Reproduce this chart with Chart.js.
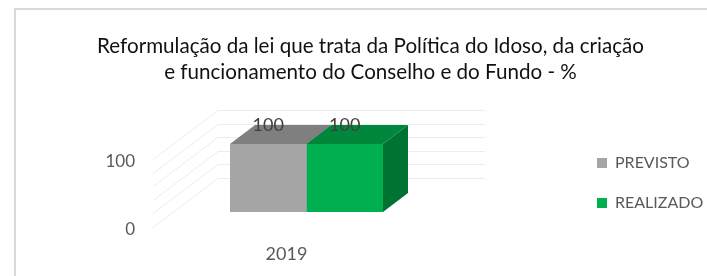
<!DOCTYPE html>
<html>
<head>
<meta charset="utf-8">
<script src="https://cdn.jsdelivr.net/npm/chart.js@4/dist/chart.umd.min.js"></script>
<style>
  html, body { margin: 0; padding: 0; background: #fff; }
  #wrap { width: 707px; height: 276px; }
</style>
</head>
<body>
<div id="wrap"><canvas id="chart"></canvas></div>
<script>
// data
const categories = ['2019'];
const previsto = [100];
const realizado = [100];
const seriesNames = ['PREVISTO', 'REALIZADO'];
const titleLines = ['Reformulação da lei que trata da Política do Idoso, da criação', 'e funcionamento do Conselho e do Fundo - %'];
const yTicksShown = [0, 100];

const FONT = 'Lato';
const depth = { x: 25, y: -19 };      // bar depth
const wallBack = { x: 45, y: -34 };   // back wall offset from bar front plane
const wallFront = { x: -20, y: 15 };  // front edge of side wall
const faces = [
	{ top: '#7f7f7f', side: '#6b6b6b' },
	{ top: '#00873b', side: '#007232' }
];

const box3d = {
	id: 'box3d',
	beforeInit(chart) {
		// keep the plot area narrow, as in the original
		const fit = chart.legend.fit;
		chart.legend.fit = function () {
			fit.call(this);
			this.width = 267;
		};
	},
	beforeDraw(chart) {
		const ctx = chart.ctx;
		ctx.save();
		ctx.strokeStyle = '#d9d9d9';
		ctx.lineWidth = 2;
		ctx.strokeRect(15, 9, 800, 400);
		ctx.restore();
	},
	afterLayout(chart) {
		const lg = chart.legend;
		lg.left = 573;
		lg.top += 45;
		lg.bottom += 45;
		const t = chart.titleBlock;
		t.left += 17;
		t.right += 17;
	},
	beforeDatasetsDraw(chart) {
		const { ctx, chartArea: a, scales: { y } } = chart;
		ctx.save();
		ctx.strokeStyle = '#ececec';
		ctx.lineWidth = 1;
		y.ticks.forEach(t => {
			const py = Math.round(y.getPixelForValue(t.value)) + 0.5;
			ctx.beginPath();
			ctx.moveTo(a.left + wallFront.x, py + wallFront.y);
			ctx.lineTo(a.left + wallBack.x, py + wallBack.y);
			ctx.lineTo(a.right + wallBack.x, py + wallBack.y);
			ctx.stroke();
		});
		chart.data.datasets.forEach((ds, i) => {
			chart.getDatasetMeta(i).data.forEach(bar => {
				const l = bar.x - bar.width / 2, r = bar.x + bar.width / 2;
				ctx.fillStyle = faces[i].top;
				ctx.beginPath();
				ctx.moveTo(l, bar.y);
				ctx.lineTo(r, bar.y);
				ctx.lineTo(r + depth.x, bar.y + depth.y);
				ctx.lineTo(l + depth.x, bar.y + depth.y);
				ctx.closePath();
				ctx.fill();
				ctx.fillStyle = faces[i].side;
				ctx.beginPath();
				ctx.moveTo(r, bar.y);
				ctx.lineTo(r + depth.x, bar.y + depth.y);
				ctx.lineTo(r + depth.x, bar.base + depth.y);
				ctx.lineTo(r, bar.base);
				ctx.closePath();
				ctx.fill();
			});
		});
		ctx.restore();
	},
	afterDatasetsDraw(chart) {
		const ctx = chart.ctx;
		ctx.save();
		ctx.font = '18px ' + FONT;
		ctx.fillStyle = '#404040';
		ctx.textAlign = 'center';
		ctx.textBaseline = 'middle';
		chart.data.datasets.forEach((ds, i) => {
			chart.getDatasetMeta(i).data.forEach((bar, j) => {
				ctx.fillText(String(ds.data[j]), bar.x, bar.y + depth.y);
			});
		});
		ctx.restore();
	}
};

new Chart(document.getElementById('chart'), {
	type: 'bar',
	data: {
		labels: categories,
		datasets: [
			{ label: seriesNames[0], data: previsto, backgroundColor: '#a5a5a5' },
			{ label: seriesNames[1], data: realizado, backgroundColor: '#00b050' }
		]
	},
	options: {
		responsive: true,
		maintainAspectRatio: false,
		animation: false,
		events: [],
		layout: { padding: 0 },
		categoryPercentage: 0.573,
		barPercentage: 1,
		plugins: {
			title: {
				display: true,
				text: titleLines,
				color: '#111',
				font: { family: FONT, size: 20.6, weight: 'normal', lineHeight: 1.26 },
				padding: { top: 33, bottom: 59 }
			},
			legend: {
				position: 'right',
				labels: {
					boxWidth: 10,
					boxHeight: 10,
					padding: 24,
					color: '#595959',
					font: { family: FONT, size: 16 }
				}
			},
			tooltip: { enabled: false }
		},
		scales: {
			x: {
				grid: { display: false },
				border: { display: false },
				ticks: { color: '#595959', font: { family: FONT, size: 18 }, padding: 23, labelOffset: -20 },
				afterFit(s) { s.height = 64; }
			},
			y: {
				min: 0,
				max: 100,
				grid: { display: false },
				border: { display: false },
				ticks: {
					stepSize: 20,
					autoSkip: false,
					color: '#595959',
					font: { family: FONT, size: 17 },
					padding: 30,
					labelOffset: 18,
					callback: v => yTicksShown.includes(v) ? String(v) : ''
				},
				afterFit(s) { s.width = 173; }
			}
		}
	},
	plugins: [box3d]
});
</script>
</body>
</html>
